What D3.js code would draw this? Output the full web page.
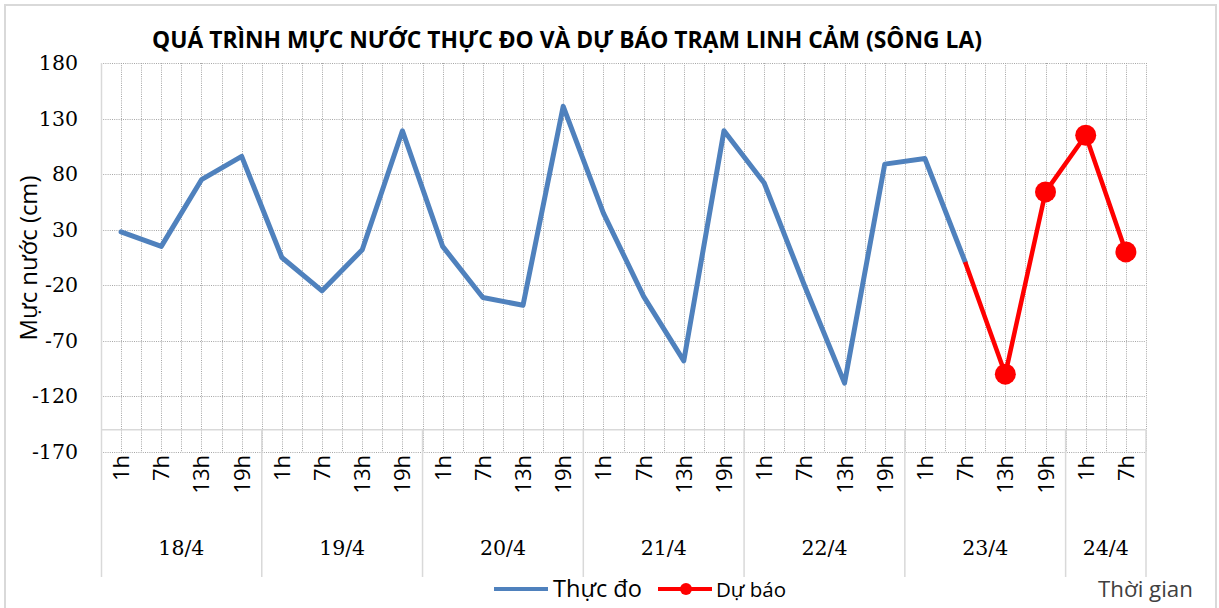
<!DOCTYPE html>
<html>
<head>
<meta charset="utf-8">
<script src="https://cdn.jsdelivr.net/npm/d3@7"></script>
<style>
  body { margin: 0; background: #fff; }
  svg { display: block; }
</style>
</head>
<body>
<svg id="chart" width="1219" height="608"></svg>
<script>
"use strict";

// Chart data
const dayLabels = ["18/4", "19/4", "20/4", "21/4", "22/4", "23/4", "24/4"];
const dayHours = [
  ["1h", "7h", "13h", "19h"],
  ["1h", "7h", "13h", "19h"],
  ["1h", "7h", "13h", "19h"],
  ["1h", "7h", "13h", "19h"],
  ["1h", "7h", "13h", "19h"],
  ["1h", "7h", "13h", "19h"],
  ["1h", "7h"],
];
const observed = [28, 15, 75, 96, 5, -25, 12, 119, 15, -31, -38, 141, 45, -30, -88, 119,
                  72, -20, -108, 89, 94, 1];
const forecastStart = 21;
const forecast = [1, -100, 64, 115, 10];
const yTicks = [180, 130, 80, 30, -20, -70, -120, -170];

const titleText = "QUÁ TRÌNH MỰC NƯỚC THỰC ĐO VÀ DỰ BÁO TRẠM LINH CẢM (SÔNG LA)";

// Build flat category list
const categories = [];
dayHours.forEach((hours, di) => {
  hours.forEach(h => categories.push({day: di, hour: h, key: `${di}-${h}`}));
});

const svg = d3.select("#chart");

const plot = {left: 101, right: 1146, top: 63, bottom: 452};

const xScale = d3.scaleBand()
  .domain(categories.map(c => c.key))
  .range([plot.left, plot.right])
  .padding(0);

const yScale = d3.scaleLinear()
  .domain([-170, 180])
  .range([plot.bottom, plot.top]);

const axisY = yScale(-150);
const bw = xScale.bandwidth();
const cx = i => xScale(categories[i].key) + bw / 2;

function fitWidth(text, target) {
  const w = text.node().getComputedTextLength();
  const size = parseFloat(text.attr("font-size"));
  text.attr("font-size", size * target / w);
}

// Outer border
svg.append("rect")
  .attr("x", 5).attr("y", 5)
  .attr("width", 1211).attr("height", 610)
  .attr("fill", "none")
  .attr("stroke", "#d9d9d9")
  .attr("stroke-width", 2);

// Grid lines
const grid = svg.append("g").attr("stroke", "#a6a6a6").attr("stroke-width", 1)
  .attr("stroke-dasharray", "1,1.2");

grid.selectAll("line.h")
  .data(yTicks)
  .enter()
  .append("line")
  .attr("x1", plot.left).attr("x2", plot.right)
  .attr("y1", d => Math.round(yScale(d)) + 0.5)
  .attr("y2", d => Math.round(yScale(d)) + 0.5);

const vLines = d3.range(0, categories.length * 2 + 1).map(i => plot.left + i * bw / 2);
grid.selectAll("line.v")
  .data(vLines.slice(1))
  .enter()
  .append("line")
  .attr("x1", d => Math.round(d) + 0.5).attr("x2", d => Math.round(d) + 0.5)
  .attr("y1", plot.top).attr("y2", plot.bottom);

// Axes lines
const axisColor = "#d9d9d9";
svg.append("line")
  .attr("x1", plot.left + 0.5).attr("x2", plot.left + 0.5)
  .attr("y1", plot.top).attr("y2", 577)
  .attr("stroke", axisColor).attr("stroke-width", 1.5);

svg.append("line")
  .attr("x1", plot.left).attr("x2", plot.right)
  .attr("y1", axisY).attr("y2", axisY)
  .attr("stroke", axisColor).attr("stroke-width", 1.5);

// Day separators and labels
let start = 0;
const dayBounds = dayHours.map(h => {
  const b = {from: start, to: start + h.length};
  start += h.length;
  return b;
});

svg.append("g").selectAll("line")
  .data(dayBounds)
  .enter()
  .append("line")
  .attr("x1", d => xScale(categories[d.to - 1].key) + bw)
  .attr("x2", d => xScale(categories[d.to - 1].key) + bw)
  .attr("y1", axisY).attr("y2", 577)
  .attr("stroke", axisColor).attr("stroke-width", 1.5);

svg.append("g").selectAll("text")
  .data(dayBounds)
  .enter()
  .append("text")
  .attr("x", d => (xScale(categories[d.from].key) + xScale(categories[d.to - 1].key) + bw) / 2)
  .attr("y", 555)
  .attr("text-anchor", "middle")
  .attr("font-family", "'DejaVu Serif', serif")
  .attr("font-size", 20.5)
  .attr("fill", "#000")
  .text((d, i) => dayLabels[i]);

// Hour labels (rotated)
svg.append("g").selectAll("text")
  .data(categories)
  .enter()
  .append("text")
  .attr("transform", (d, i) => `translate(${cx(i) + 8},455) rotate(-90)`)
  .attr("text-anchor", "end")
  .attr("font-family", "'Open Sans', sans-serif")
  .attr("font-size", 22)
  .attr("fill", "#000")
  .text(d => d.hour);

// Y ticks
svg.append("g").selectAll("text")
  .data(yTicks)
  .enter()
  .append("text")
  .attr("x", 78)
  .attr("y", d => yScale(d) + 7)
  .attr("text-anchor", "end")
  .attr("font-family", "'DejaVu Serif', serif")
  .attr("font-size", 20.5)
  .attr("fill", "#000")
  .text(d => d);

// Y axis title
const yTitle = svg.append("text")
  .attr("transform", "translate(37,258) rotate(-90)")
  .attr("text-anchor", "middle")
  .attr("font-family", "'Open Sans', sans-serif")
  .attr("font-size", 21)
  .attr("fill", "#000")
  .text("Mực nước (cm)");
fitWidth(yTitle, 165);

// Title
const title = svg.append("text")
  .attr("x", 567)
  .attr("y", 48)
  .attr("text-anchor", "middle")
  .attr("font-family", "'Open Sans', sans-serif")
  .attr("font-weight", "bold")
  .attr("font-size", 20)
  .attr("fill", "#000")
  .text(titleText);
fitWidth(title, 830);

// Lines
const line = d3.line()
  .x(d => d[0])
  .y(d => yScale(d[1]));

const obsPoints = observed.map((v, i) => [cx(i), v]);
const fcPoints = forecast.map((v, i) => [cx(forecastStart + i), v]);

svg.append("path")
  .datum(obsPoints)
  .attr("d", line)
  .attr("fill", "none")
  .attr("stroke", "#4f81bd")
  .attr("stroke-width", 5)
  .attr("stroke-linejoin", "round")
  .attr("stroke-linecap", "round");

svg.append("path")
  .datum(fcPoints)
  .attr("d", line)
  .attr("fill", "none")
  .attr("stroke", "#ff0000")
  .attr("stroke-width", 4.5)
  .attr("stroke-linejoin", "round");

svg.append("g").selectAll("circle")
  .data(fcPoints.slice(1))
  .enter()
  .append("circle")
  .attr("cx", d => d[0])
  .attr("cy", d => yScale(d[1]))
  .attr("r", 10.5)
  .attr("fill", "#ff0000");

// Legend
const legend = svg.append("g").attr("font-family", "'Open Sans', sans-serif");
legend.append("line")
  .attr("x1", 494).attr("x2", 548).attr("y1", 589).attr("y2", 589)
  .attr("stroke", "#4f81bd").attr("stroke-width", 4);
const t1 = legend.append("text").attr("x", 553).attr("y", 597).attr("font-size", 22).text("Thực đo");
fitWidth(t1, 89);

legend.append("line")
  .attr("x1", 658).attr("x2", 712).attr("y1", 589).attr("y2", 589)
  .attr("stroke", "#ff0000").attr("stroke-width", 4);
legend.append("circle").attr("cx", 686).attr("cy", 589).attr("r", 6).attr("fill", "#ff0000");
legend.append("text").attr("x", 716).attr("y", 597).attr("font-size", 20.5).text("Dự báo");

const t3 = svg.append("text")
  .attr("x", 1098).attr("y", 597)
  .attr("font-family", "'Open Sans', sans-serif")
  .attr("font-size", 21)
  .attr("fill", "#404040")
  .text("Thời gian");
fitWidth(t3, 95);
</script>
</body>
</html>
